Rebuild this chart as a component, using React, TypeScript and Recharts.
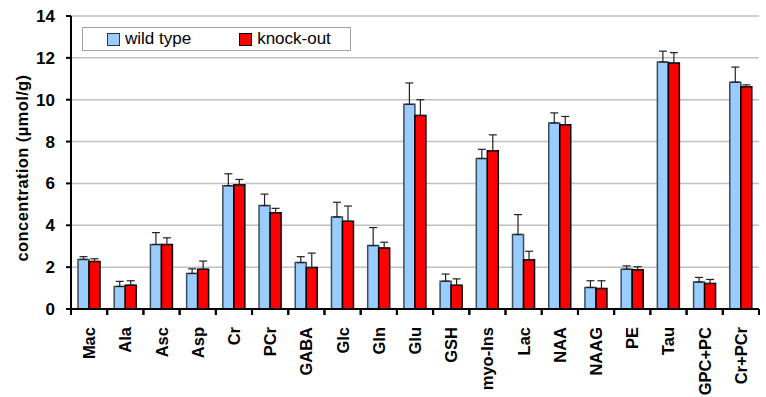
import { BarChart, Bar, XAxis, YAxis, CartesianGrid, ErrorBar } from "recharts"

const metabolites = [
  "Mac", "Ala", "Asc", "Asp", "Cr", "PCr", "GABA", "Glc", "Gln", "Glu",
  "GSH", "myo-Ins", "Lac", "NAA", "NAAG", "PE", "Tau", "GPC+PC", "Cr+PCr",
]
const wildType = [2.37, 1.08, 3.08, 1.7, 5.89, 4.94, 2.22, 4.4, 3.03, 9.78, 1.33, 7.19, 3.56, 8.89, 1.03, 1.9, 11.8, 1.29, 10.84]
const wildTypeSd = [0.13, 0.24, 0.57, 0.22, 0.57, 0.55, 0.28, 0.7, 0.86, 1.02, 0.34, 0.44, 0.95, 0.48, 0.32, 0.16, 0.52, 0.22, 0.72]
const knockOut = [2.27, 1.14, 3.08, 1.9, 5.94, 4.6, 1.98, 4.19, 2.92, 9.25, 1.13, 7.56, 2.35, 8.8, 0.98, 1.87, 11.75, 1.22, 10.62]
const knockOutSd = [0.13, 0.21, 0.32, 0.39, 0.25, 0.21, 0.69, 0.73, 0.27, 0.75, 0.31, 0.76, 0.41, 0.4, 0.37, 0.15, 0.5, 0.19, 0.09]
const yTicks = [0, 2, 4, 6, 8, 10, 12, 14]

const data = metabolites.map((name, i) => ({
  name,
  wt: wildType[i],
  wtErr: [0, wildTypeSd[i]],
  ko: knockOut[i],
  koErr: [0, knockOutSd[i]],
}))

const font = "Arial, 'Liberation Sans', sans-serif"
const W = 766
const H = 397
const margin = { top: 16, right: 7, bottom: 0, left: 0 }
const xAxisHeight = 88
const yAxisWidth = 71
const band = (W - margin.left - margin.right - yAxisWidth) / metabolites.length

function CategoryTick(props: any) {
  const { x, y, payload } = props
  return (
    <g>
      <line x1={x - band / 2} y1={y} x2={x - band / 2} y2={y + 6} stroke="#000" strokeWidth={2} />
      <line x1={x + band / 2} y1={y} x2={x + band / 2} y2={y + 6} stroke="#000" strokeWidth={2} />
      <text
        x={x}
        y={y + 18}
        transform={`rotate(-90 ${x} ${y + 18})`}
        textAnchor="end"
        dominantBaseline="central"
        fontFamily={font}
        fontWeight="bold"
        fontSize={16.5}
        fill="#000"
      >
        {payload.value}
      </text>
    </g>
  )
}

function LegendBox() {
  const item = (color: string, stroke: string, label: string, gap: number) => (
    <div style={{ display: "flex", alignItems: "center", marginRight: gap, whiteSpace: "nowrap", flexShrink: 0 }}>
      <span style={{ width: 11, height: 11, background: color, border: `1px solid ${stroke}`, marginRight: 5, flexShrink: 0 }} />
      <span>{label}</span>
    </div>
  )
  return (
    <div
      style={{
        position: "absolute",
        left: 82,
        top: 27,
        width: 269,
        height: 24,
        boxSizing: "border-box",
        border: "1px solid #a0a0a0",
        background: "#fff",
        display: "flex",
        alignItems: "center",
        paddingLeft: 24,
        fontFamily: font,
        fontSize: 17,
        color: "#000",
      }}
    >
      {item("#99ccff", "#333", "wild type", 48)}
      {item("#ff0000", "#000", "knock-out", 0)}
    </div>
  )
}

export default function App() {
  return (
    <div style={{ position: "relative", width: W, height: H, background: "#fff" }}>
      <style>{"body{margin:0}"}</style>
      <BarChart width={W} height={H} data={data} margin={margin} barCategoryGap={7} barGap={0}>
        <CartesianGrid vertical={false} stroke="#c0c0c0" strokeWidth={1.5} />
        <XAxis
          dataKey="name"
          interval={0}
          height={xAxisHeight}
          tickSize={0}
          tickMargin={0}
          tickLine={false}
          axisLine={{ stroke: "#000", strokeWidth: 2 }}
          tick={<CategoryTick />}
        />
        <XAxis xAxisId="top" dataKey="name" orientation="top" height={0} tick={false} tickLine={false} axisLine={{ stroke: "#000", strokeWidth: 2 }} />
        <YAxis
          domain={[0, 14]}
          ticks={yTicks}
          width={yAxisWidth}
          tickSize={5}
          tickMargin={11}
          tickLine={{ stroke: "#000", strokeWidth: 2 }}
          axisLine={{ stroke: "#000", strokeWidth: 2 }}
          tick={{ fontFamily: font, fontWeight: "bold", fontSize: 17, fill: "#000" }}
          label={{
            content: () => (
              <text
                x={22}
                y={168}
                transform="rotate(-90 22 168)"
                textAnchor="middle"
                dominantBaseline="central"
                fontFamily={font}
                fontWeight="bold"
                fontSize={16.5}
                letterSpacing={0.4}
                fill="#000"
              >
                concentration (µmol/g)
              </text>
            ),
          }}
        />
        <YAxis yAxisId="right" orientation="right" width={0} domain={[0, 14]} tick={false} tickLine={false} axisLine={{ stroke: "#000", strokeWidth: 2 }} />
        <Bar dataKey="wt" name="wild type" fill="#99ccff" stroke="#3c4c5c" strokeWidth={1.5} isAnimationActive={false}>
          <ErrorBar dataKey="wtErr" width={4} stroke="#222" strokeWidth={1.2} direction="y" />
        </Bar>
        <Bar dataKey="ko" name="knock-out" fill="#ff0000" stroke="#000" strokeWidth={1.5} isAnimationActive={false}>
          <ErrorBar dataKey="koErr" width={4} stroke="#222" strokeWidth={1.2} direction="y" />
        </Bar>
      </BarChart>
      <LegendBox />
    </div>
  )
}
